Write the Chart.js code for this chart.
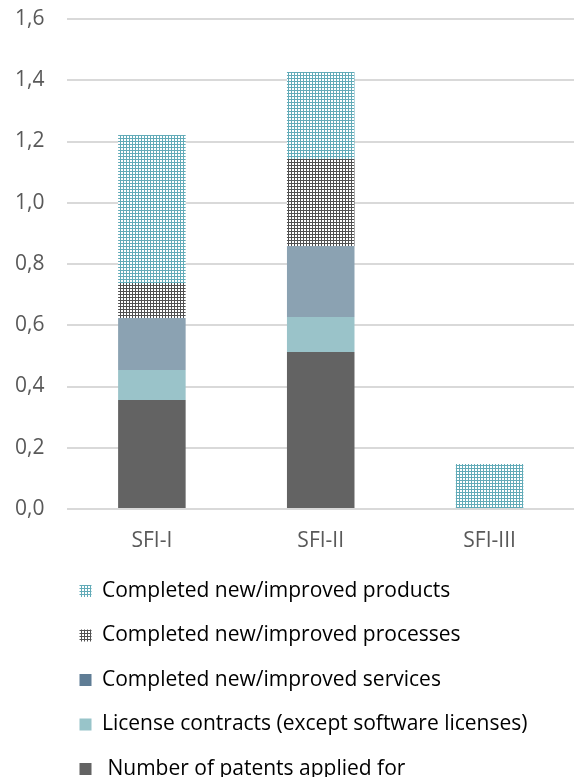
<!DOCTYPE html>
<html>
<head>
<meta charset="utf-8">
<script src="https://cdn.jsdelivr.net/npm/chart.js@4"></script>
<style>
  html, body { margin: 0; padding: 0; background: #fff; }
  #wrap { width: 574px; height: 777px; }
</style>
</head>
<body>
<div id="wrap"><canvas id="barChart"></canvas></div>
<script>
const categories = ["SFI-I", "SFI-II", "SFI-III"];
const seriesNames = [
    " Number of patents applied for",
    "License contracts (except software licenses)",
    "Completed new/improved services",
    "Completed new/improved processes",
    "Completed new/improved products"
];
const patents = [0.356, 0.513, 0];
const licenses = [0.098, 0.114, 0];
const services = [0.170, 0.232, 0];
const processes = [0.114, 0.284, 0];
const products = [0.483, 0.284, 0.147];
const yTicks = [0, 0.2, 0.4, 0.6, 0.8, 1.0, 1.2, 1.4, 1.6];

// small dotted fills like the office pattern fills
function makePattern(ink) {
    const c = document.createElement("canvas");
    c.width = 3;
    c.height = 3;
    const g = c.getContext("2d");
    g.fillStyle = "#ffffff";
    g.fillRect(0, 0, 3, 3);
    g.fillStyle = ink;
    g.fillRect(0, 0, 3, 1);
    g.fillRect(0, 0, 1, 3);
    return g.createPattern(c, "repeat");
}

const ctx = document.getElementById("barChart").getContext("2d");
const productsFill = makePattern("#62abb8");
const processesFill = makePattern("#505050");

const fills = ["#636363", "#9ac3c9", "#8ba2b2", processesFill, productsFill];
const legendFills = ["#636363", "#98c4c9", "#5f7d95", processesFill, productsFill];
const values = [patents, licenses, services, processes, products];

// move the legend block right and up, like the original
const legendShift = {
    id: "legendShift",
    afterUpdate(chart) {
        const lg = chart.legend;
        lg.left += 41;
        lg.right += 41;
        lg.top -= 15.2;
        lg.bottom -= 15.2;
    }
};

new Chart(ctx, {
    type: "bar",
    data: {
        labels: categories,
        datasets: seriesNames.map((name, i) => ({
            label: name,
            data: values[i],
            backgroundColor: fills[i],
            borderWidth: 0,
            categoryPercentage: 1,
            barPercentage: 0.4
        }))
    },
    options: {
        responsive: true,
        maintainAspectRatio: false,
        animation: false,
        layout: { padding: { top: 19, left: 15, right: 0, bottom: -27.7 } },
        plugins: {
            tooltip: { enabled: false },
            legend: {
                position: "bottom",
                align: "start",
                reverse: true,
                labels: {
                    boxWidth: 12,
                    boxHeight: 12,
                    padding: 23.5,
                    color: "#595959",
                    font: { family: "Open Sans", size: 21 },
                    generateLabels(chart) {
                        return chart.data.datasets.map((ds, i) => ({
                            text: ds.label,
                            fillStyle: legendFills[i],
                            strokeStyle: "rgba(0,0,0,0)",
                            lineWidth: 0,
                            hidden: false,
                            datasetIndex: i
                        }));
                    }
                }
            }
        },
        scales: {
            x: {
                stacked: true,
                grid: { display: false, drawTicks: false },
                border: { display: false },
                ticks: {
                    padding: 19,
                    color: "#595959",
                    font: { family: "Open Sans", size: 21 }
                }
            },
            y: {
                stacked: true,
                min: 0,
                max: 1.6,
                afterBuildTicks(axis) {
                    axis.ticks = yTicks.map(v => ({ value: v }));
                },
                grid: {
                    color: "#d9d9d9",
                    lineWidth: 2,
                    drawTicks: true,
                    tickLength: 23,
                    tickColor: "rgba(0,0,0,0)"
                },
                border: { display: false },
                ticks: {
                    padding: 0,
                    color: "#595959",
                    font: { family: "Open Sans", size: 21 },
                    callback: v => v.toFixed(1).replace(".", ",")
                }
            }
        }
    },
    plugins: [legendShift]
});
</script>
</body>
</html>
